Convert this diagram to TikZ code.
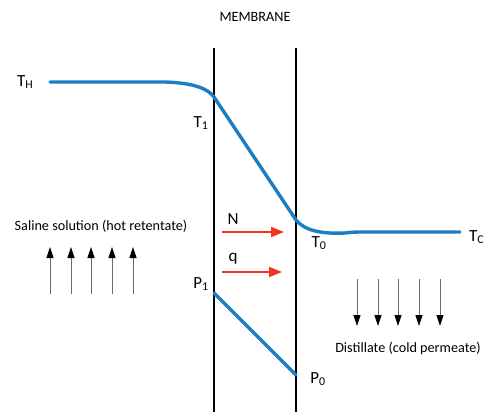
\documentclass[tikz,border=0pt]{standalone}
\usepackage{fontspec}
\setmainfont{Carlito}
\usepackage{xcolor}
\usepackage{tikz}
\usetikzlibrary{arrows.meta,positioning}
\definecolor{profile}{HTML}{1B7EC2}
\definecolor{flux}{HTML}{F5321E}
\definecolor{stream}{HTML}{6B6B6B}
\tikzset{
  wall/.style={draw=black,line width=1.3pt},
  curve/.style={draw=profile,line width=3.4pt,line cap=round},
  fluxarrow/.style={draw=flux,line width=1.5pt,-{Triangle[length=13pt,width=10pt]}},
  flowarrow/.style={draw=stream,line width=0.8pt,-{Triangle[length=11pt,width=7pt,fill=black,color=black]}},
  lbl/.style={font=\fontsize{17}{19}\selectfont,text=black,inner sep=1pt},
  txt/.style={font=\fontsize{14.2}{16}\selectfont,text=black,inner sep=1pt},
}

\begin{document}
\begin{tikzpicture}[x=1pt,y=-1pt]
    \useasboundingbox (0,0) rectangle (487,412);
    % membrane walls
    \coordinate (wl top) at (214,48);
    \coordinate (wl bot) at (214,412);
    \coordinate (wr top) at (296,48);
    \coordinate (wr bot) at (296,412);
    \draw[wall] (wl top) -- (wl bot);
    \draw[wall] (wr top) -- (wr bot);
    \node[txt] (membrane) at (255,17) {MEMBRANE};

    % temperature profile
    \coordinate (th) at (50,82);
    \coordinate (t1) at (214,97);
    \coordinate (t0) at (296,220);
    \coordinate (tc) at (460,232);
    \draw[curve] (th) -- (165,82) .. controls (195,83) and (208,89) .. (t1)
      -- (t0) .. controls (305,231) and (322,234) .. (345,233)
      .. controls (352,232) and (356,232) .. (365,232) -- (tc);
    \node[lbl,anchor=west] (TH) at (16,82) {T\textsubscript{H}};
    \node[lbl] (T1) at (201,123) {T\textsubscript{1}};
    \node[lbl] (T0) at (319,243) {T\textsubscript{0}};
    \node[lbl,anchor=west] (TC) at (468,237) {T\textsubscript{C}};

    % pressure profile
    \coordinate (p1) at (214,293);
    \coordinate (p0) at (296,375);
    \draw[curve] (p1) -- (p0);
    \node[lbl] (P1) at (201,284) {P\textsubscript{1}};
    \node[lbl] (P0) at (318,379) {P\textsubscript{0}};

    % fluxes through the membrane
    \coordinate (n a) at (222,232);
    \coordinate (n b) at (284,232);
    \coordinate (q a) at (222,272);
    \coordinate (q b) at (282,272);
    \draw[fluxarrow] (n a) -- (n b);
    \draw[fluxarrow] (q a) -- (q b);
    \node[lbl] (N) at (233,219) {N};
    \node[lbl] (q) at (233,259) {q};

    % feed side
    \node[txt] (saline) at (101,226) {Saline solution (hot retentate)};
    \foreach \x [count=\i] in {50,71,91,112,133} {
      \coordinate (up\i a) at (\x,294);
      \coordinate (up\i b) at (\x,247);
      \draw[flowarrow] (up\i a) -- (up\i b);
    }

    % permeate side
    \node[txt] (distillate) at (408,348) {Distillate (cold permeate)};
    \foreach \x [count=\i] in {357,378,398,419,440} {
      \coordinate (dn\i a) at (\x,279);
      \coordinate (dn\i b) at (\x,326);
      \draw[flowarrow] (dn\i a) -- (dn\i b);
    }
  \end{tikzpicture}
\end{document}
